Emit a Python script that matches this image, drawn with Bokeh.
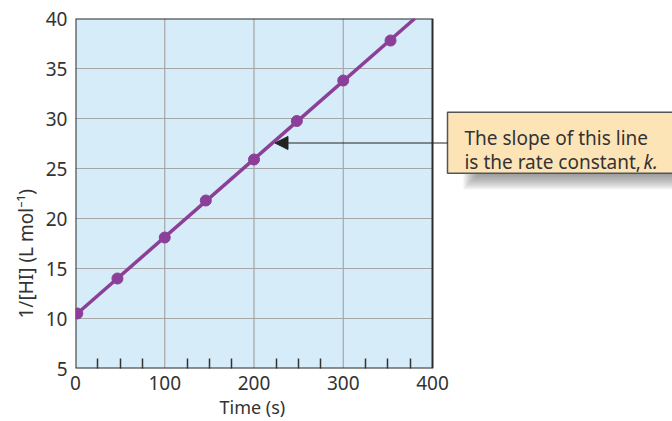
import numpy as np
from bokeh.plotting import figure
from bokeh.models import Range1d, FixedTicker, Title, Arrow, NormalHead
from bokeh.core.properties import value
from bokeh.embed import file_html
from bokeh.resources import INLINE

# ---- data ----
time_s = [2, 47, 100, 146, 200, 248, 300, 353]
inv_hi = [10.5, 14.0, 18.1, 21.8, 25.9, 29.75, 33.8, 37.8]
x_tick_labels = [0, 100, 200, 300, 400]
y_tick_labels = [5, 10, 15, 20, 25, 30, 35, 40]
x_minor_ticks = [25, 50, 75, 125, 150, 175, 225, 250, 275, 325, 350, 375]
x_grid_lines = [100, 200, 300]
y_grid_lines = [10, 15, 20, 25, 30, 35]
x_title = "Time (s)"
y_title = "1/[HI]  (L mol\u207b\u00b9)"
note_line1 = "The slope of this line"
note_line2 = "is the rate constant, "
note_k = "k."

FONT = "Noto Sans"
TXT = "#333333"
PURPLE = "#8b3f98"
BLUE = "#d6ecf9"

X0, X1 = 0, 400
Y0, Y1 = 5, 40
PX = 1 / 0.8925   # x data units per pixel
PY = 0.1          # y data units per pixel

p = figure(width=672, height=421, output_backend="svg", toolbar_location=None,
           x_range=Range1d(0, 668.9), y_range=Range1d(Y0, Y1),
           min_border_left=75, min_border_right=0, min_border_top=18,
           min_border_bottom=53)
p.outline_line_color = None
p.grid.visible = False
p.background_fill_color = "white"
p.border_fill_color = "white"

xa = p.xaxis[0]
xa.ticker = FixedTicker(ticks=x_tick_labels, minor_ticks=x_minor_ticks)
xa.axis_line_color = None
xa.major_tick_in = 0
xa.major_tick_out = 0
xa.minor_tick_in = 10
xa.minor_tick_out = 0
xa.minor_tick_line_color = "#333333"
xa.minor_tick_line_width = 1.5
xa.major_label_text_font = FONT
xa.major_label_text_font_size = "19px"
xa.major_label_text_color = TXT
xa.major_label_standoff = 7

ya = p.yaxis[0]
ya.ticker = FixedTicker(ticks=y_tick_labels)
ya.axis_line_color = None
ya.major_tick_in = 0
ya.major_tick_out = 0
ya.minor_tick_line_color = None
ya.major_label_text_font = FONT
ya.major_label_text_font_size = "19px"
ya.major_label_text_color = TXT
ya.major_label_standoff = 8

# axis titles as Title panels, offset so they sit where the reference puts them
p.add_layout(Title(text=x_title, align="left", offset=144, text_font=FONT,
                   text_font_size="18px", text_font_style="normal", text_color=TXT,
                   standoff=0), "below")
p.add_layout(Title(text=y_title, align="left", offset=50, text_font=FONT,
                   text_font_size="19px", text_font_style="normal", text_color=TXT,
                   standoff=7), "left")

# plot panel
p.quad(left=X0, right=X1, bottom=Y0, top=Y1, fill_color=BLUE, line_color=None)
p.segment(x0=x_grid_lines, x1=x_grid_lines, y0=[Y0] * len(x_grid_lines), y1=[Y1] * len(x_grid_lines),
          line_color="#a6a6a6", line_width=1.2)
p.segment(x0=[X0] * len(y_grid_lines), x1=[X1] * len(y_grid_lines), y0=y_grid_lines, y1=y_grid_lines,
          line_color="#a6a6a6", line_width=1.2)
p.quad(left=X0, right=X1, bottom=Y0, top=Y1, fill_color=None, line_color="#2b2b2b", line_width=2)

# fitted line through the points, extended to the top of the panel
m, b = np.polyfit(time_s, inv_hi, 1)
x_end = (Y1 - b) / m
p.line(x=[time_s[0], x_end], y=[m * time_s[0] + b, Y1], line_color=PURPLE, line_width=3.5)
p.scatter(x=time_s, y=inv_hi, size=11, fill_color=PURPLE, line_color=PURPLE)

# callout box with soft shadow
bl, br, bb, bt = 416.8, 700.0, 24.53, 30.63
for i in range(8):
    d = (i + 1) * 2
    p.quad(left=bl + (32 - d) * PX, right=br, bottom=bb - d * PY, top=bb + 2 * PY,
           fill_color="#4a4a4a", fill_alpha=0.09, line_color=None)
p.quad(left=bl, right=br, bottom=bb, top=bt, fill_color="#fde4b7", line_color="#555555", line_width=1.5)
p.text(x=[435.8, 435.8], y=[28.03, 25.63], text=[note_line1, note_line2], text_font=value(FONT),
       text_font_size="19px", text_color=TXT, text_baseline="alphabetic", text_align="left")
p.text(x=[636.4], y=[25.63], text=[note_k], text_font=value(FONT), text_font_size="19px",
       text_font_style="italic", text_color=TXT, text_baseline="alphabetic", text_align="left")

p.add_layout(Arrow(x_start=bl, y_start=27.55, x_end=223.5, y_end=27.55, line_color="#222222",
                   line_width=1.2, end=NormalHead(size=13, fill_color="#222222", line_color="#222222")))

open("out.html", "w").write(file_html(p, INLINE))
